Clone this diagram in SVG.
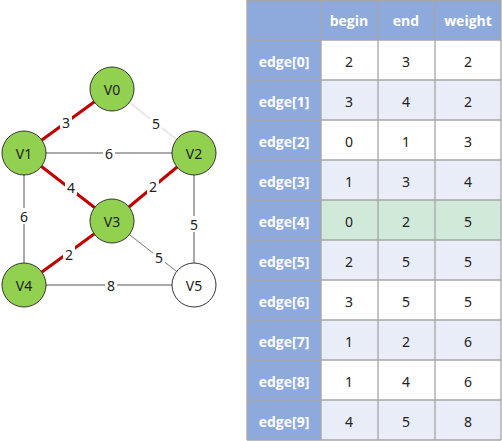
<svg xmlns="http://www.w3.org/2000/svg" width="502" height="441" viewBox="0 0 502 441">
<style>
.node{stroke:#333;stroke-width:1}
.g{fill:#92D050}
.w{fill:#fff}
.nt{font-family:"Noto Sans","Open Sans",sans-serif;font-size:14px;fill:#222;text-anchor:middle;dominant-baseline:central}
.e{stroke:#555;stroke-width:1;fill:none}
.red{stroke:#C00000;stroke-width:3}
.lt{stroke:#E8E8E8;stroke-width:2}
.lb{font-family:"Noto Sans","Open Sans",sans-serif;font-size:14px;fill:#222;text-anchor:middle;dominant-baseline:central}
.lbg{fill:#fff}
.hd{fill:#8EA9DB}
.r0{fill:#fff}
.r1{fill:#E9EDF7}
.rg{fill:#D0E9D8}
.grid{stroke:#A6A6A6;stroke-width:1.3;fill:none}
.ht{font-family:"Open Sans","Noto Sans",sans-serif;font-size:14px;font-weight:bold;fill:#fff;text-anchor:middle;dominant-baseline:central}
.ct{font-family:"Noto Sans","Open Sans",sans-serif;font-size:14px;fill:#222;text-anchor:middle;dominant-baseline:central}
</style>
<rect width="502" height="441" fill="#fff"/>
<g id="connectors">
<line class="e red" x1="112" y1="89" x2="24" y2="153"/>
<line class="e lt" x1="112" y1="89" x2="194" y2="153"/>
<line class="e" x1="24" y1="153" x2="194" y2="153"/>
<line class="e red" x1="24" y1="153" x2="112" y2="221"/>
<line class="e red" x1="194" y1="153" x2="112" y2="221"/>
<line class="e" x1="24" y1="153" x2="24" y2="285"/>
<line class="e" x1="194" y1="153" x2="194" y2="285"/>
<line class="e red" x1="112" y1="221" x2="24" y2="285"/>
<line class="e" x1="112" y1="221" x2="194" y2="285" style="stroke:#777"/>
<line class="e" x1="24" y1="285" x2="194" y2="285"/>
<rect class="lbg" x="60" y="114" width="12" height="16"/><text class="lb" x="66" y="122">3</text>
<rect class="lbg" x="150" y="115" width="12" height="16"/><text class="lb" x="156" y="123">5</text>
<rect class="lbg" x="103" y="145" width="12" height="16"/><text class="lb" x="109" y="153">6</text>
<rect class="lbg" x="65" y="179" width="12" height="16"/><text class="lb" x="71" y="187">4</text>
<rect class="lbg" x="147" y="178" width="12" height="16"/><text class="lb" x="153" y="186">2</text>
<rect class="lbg" x="18" y="208" width="12" height="16"/><text class="lb" x="24" y="216">6</text>
<rect class="lbg" x="188" y="216" width="12" height="16"/><text class="lb" x="194" y="224">5</text>
<rect class="lbg" x="63" y="246" width="12" height="16"/><text class="lb" x="69" y="254">2</text>
<rect class="lbg" x="153" y="249" width="12" height="16"/><text class="lb" x="159" y="257">5</text>
<rect class="lbg" x="105" y="277" width="12" height="16"/><text class="lb" x="111" y="285">8</text>
</g>
<g id="V0"><circle class="node g" cx="112" cy="89" r="22"/><text class="nt" x="112" y="89">V0</text></g>
<g id="V1"><circle class="node g" cx="24" cy="153" r="22"/><text class="nt" x="24" y="153">V1</text></g>
<g id="V2"><circle class="node g" cx="194" cy="153" r="22"/><text class="nt" x="194" y="153">V2</text></g>
<g id="V3"><circle class="node g" cx="112" cy="221" r="22"/><text class="nt" x="112" y="221">V3</text></g>
<g id="V4"><circle class="node g" cx="24" cy="285" r="22"/><text class="nt" x="24" y="285">V4</text></g>
<g id="V5"><circle class="node w" cx="194" cy="285" r="22"/><text class="nt" x="194" y="285">V5</text></g>
<g id="table">
<rect class="hd" x="247" y="0" width="254" height="40"/>
<rect class="hd" x="247" y="40" width="74" height="400"/>
<rect class="r0" x="321" y="40" width="180" height="40"/>
<rect class="r1" x="321" y="80" width="180" height="40"/>
<rect class="r0" x="321" y="120" width="180" height="40"/>
<rect class="r1" x="321" y="160" width="180" height="40"/>
<rect class="rg" x="321" y="200" width="180" height="40"/>
<rect class="r1" x="321" y="240" width="180" height="40"/>
<rect class="r0" x="321" y="280" width="180" height="40"/>
<rect class="r1" x="321" y="320" width="180" height="40"/>
<rect class="r0" x="321" y="360" width="180" height="40"/>
<rect class="r1" x="321" y="400" width="180" height="40"/>
<path class="grid" d="M247,0V440M321,0V440M378,0V440M435,0V440M501,0V440M247,0.5H501M247,40H501M247,80H501M247,120H501M247,160H501M247,200H501M247,240H501M247,280H501M247,320H501M247,360H501M247,400H501M247,440H501"/>
<text class="ht" x="349" y="20">begin</text>
<text class="ht" x="406" y="20">end</text>
<text class="ht" x="468" y="20">weight</text>
<text class="ht" x="284" y="61">edge[0]</text>
<text class="ht" x="284" y="101">edge[1]</text>
<text class="ht" x="284" y="141">edge[2]</text>
<text class="ht" x="284" y="181">edge[3]</text>
<text class="ht" x="284" y="221">edge[4]</text>
<text class="ht" x="284" y="261">edge[5]</text>
<text class="ht" x="284" y="301">edge[6]</text>
<text class="ht" x="284" y="341">edge[7]</text>
<text class="ht" x="284" y="381">edge[8]</text>
<text class="ht" x="284" y="421">edge[9]</text>
<text class="ct" x="349" y="61">2</text><text class="ct" x="406" y="61">3</text><text class="ct" x="468" y="61">2</text>
<text class="ct" x="349" y="101">3</text><text class="ct" x="406" y="101">4</text><text class="ct" x="468" y="101">2</text>
<text class="ct" x="349" y="141">0</text><text class="ct" x="406" y="141">1</text><text class="ct" x="468" y="141">3</text>
<text class="ct" x="349" y="181">1</text><text class="ct" x="406" y="181">3</text><text class="ct" x="468" y="181">4</text>
<text class="ct" x="349" y="221">0</text><text class="ct" x="406" y="221">2</text><text class="ct" x="468" y="221">5</text>
<text class="ct" x="349" y="261">2</text><text class="ct" x="406" y="261">5</text><text class="ct" x="468" y="261">5</text>
<text class="ct" x="349" y="301">3</text><text class="ct" x="406" y="301">5</text><text class="ct" x="468" y="301">5</text>
<text class="ct" x="349" y="341">1</text><text class="ct" x="406" y="341">2</text><text class="ct" x="468" y="341">6</text>
<text class="ct" x="349" y="381">1</text><text class="ct" x="406" y="381">4</text><text class="ct" x="468" y="381">6</text>
<text class="ct" x="349" y="421">4</text><text class="ct" x="406" y="421">5</text><text class="ct" x="468" y="421">8</text>
</g>
</svg>
